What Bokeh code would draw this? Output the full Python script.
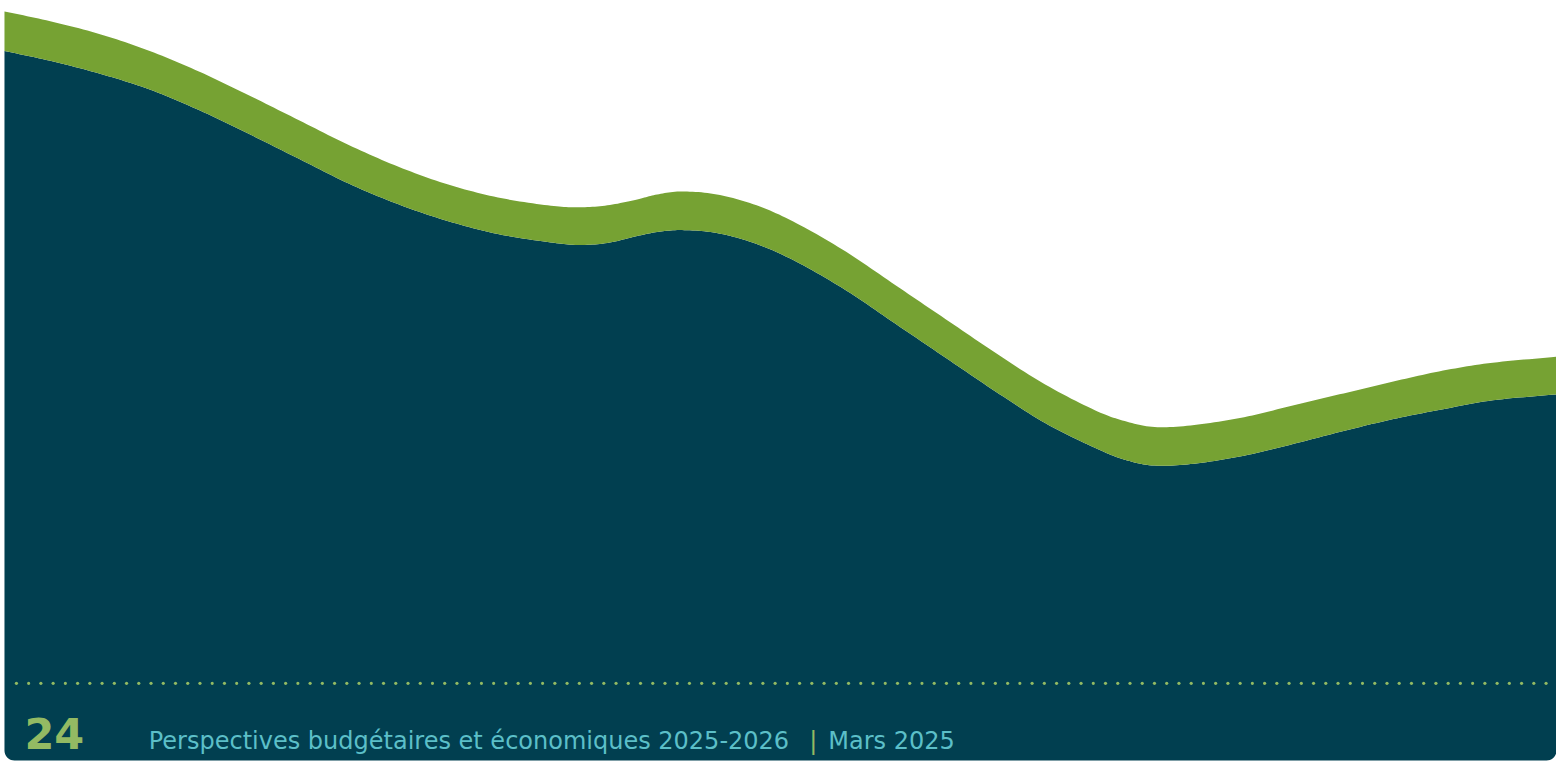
from bokeh.plotting import figure
from bokeh.models import Range1d
from bokeh.core.properties import value
from bokeh.embed import file_html
from bokeh.resources import INLINE
import numpy as np

# Wave profile (x in px, y in px from top)
curve_x = [4, 50, 100, 150, 200, 250, 300, 350, 400, 450, 500, 550, 580, 610, 640, 660, 685,
           720, 760, 800, 850, 900, 950, 1000, 1050, 1100, 1130, 1160, 1200, 1250, 1300,
           1350, 1400, 1450, 1500, 1564]
green_top = [11, 21, 34, 51, 72, 96, 121, 146, 168, 186, 199, 207, 209, 207, 201, 196, 193,
             196, 207, 225, 254, 288, 322, 356, 388, 414, 425, 431, 429, 421, 409,
             397, 385, 374, 366, 360]
blue_top = [51, 61, 74, 90, 111, 135, 160, 185, 206, 223, 236, 244, 247, 245, 238, 234, 232,
            235, 246, 264, 293, 327, 361, 395, 427, 452, 464, 470, 468, 460, 448,
            435, 423, 413, 404, 398]

page_number = "24"
footer_title = "Perspectives budgétaires et économiques 2025-2026"
footer_sep = "|"
footer_date = "Mars 2025"

DARK = "#013F50"
GREEN = "#76A233"
LIGHT_GREEN = "#93BA63"
TEAL = "#5CBFC8"

BOTTOM = 768.0
CORNER = 10.0


def smooth(xs, ys, n=12):
    """Catmull-Rom rendering through the read points (passes through every point)."""
    xs = np.asarray(xs, float)
    ys = np.asarray(ys, float)
    px = np.concatenate([[2 * xs[0] - xs[1]], xs, [2 * xs[-1] - xs[-2]]])
    py = np.concatenate([[2 * ys[0] - ys[1]], ys, [2 * ys[-1] - ys[-2]]])
    ox, oy = [], []
    t = np.linspace(0, 1, n, endpoint=False)
    for i in range(1, len(px) - 2):
        for arr, out in ((px, ox), (py, oy)):
            p0, p1, p2, p3 = arr[i - 1], arr[i], arr[i + 1], arr[i + 2]
            out.extend(0.5 * ((2 * p1) + (-p0 + p2) * t + (2 * p0 - 5 * p1 + 4 * p2 - p3) * t ** 2
                              + (-p0 + 3 * p1 - 3 * p2 + p3) * t ** 3))
    ox.append(xs[-1])
    oy.append(ys[-1])
    return np.array(ox), np.array(oy)


sx, s_green = smooth(curve_x, green_top)
_, s_blue = smooth(curve_x, blue_top)

# dark body outline: wave on top, rounded bottom corners
ang_r = np.linspace(0, np.pi / 2, 10)
ang_l = np.linspace(np.pi / 2, np.pi, 10)
x_right, x_left = sx[-1], sx[0]
body_x = np.concatenate([sx,
                         x_right - CORNER + CORNER * np.cos(ang_r),
                         x_left + CORNER + CORNER * np.cos(ang_l)])
body_y = np.concatenate([s_blue,
                         BOTTOM - CORNER + CORNER * np.sin(ang_r),
                         BOTTOM - CORNER + CORNER * np.sin(ang_l)])

p = figure(width=1556, height=762, output_backend="svg", toolbar_location=None,
           x_range=Range1d(0, 1564), y_range=Range1d(770, 0),
           min_border=0, min_border_left=0, min_border_right=0,
           min_border_top=0, min_border_bottom=0)
p.axis.visible = False
p.grid.visible = False
p.outline_line_color = None
p.background_fill_color = "white"
p.border_fill_color = "white"

p.patch(x=body_x, y=body_y, fill_color=DARK, line_color=None)
p.varea(x=sx, y1=s_green, y2=s_blue, fill_color=GREEN)

# dotted separator
dots_x = np.arange(16, 1556, 12.3)
p.scatter(x=dots_x, y=np.full(len(dots_x), 690.0), size=3.2, fill_color=LIGHT_GREEN, line_color=None)

p.text(x=[24], y=[741], text=[page_number], text_color=LIGHT_GREEN,
       text_font=value("DejaVu Sans"), text_font_size="43px", text_font_style="bold",
       text_baseline="alphabetic")
p.text(x=[149], y=[748], text=[footer_title], text_color=TEAL,
       text_font=value("DejaVu Sans"), text_font_size="24px", text_baseline="alphabetic")
p.text(x=[813], y=[748], text=[footer_sep], text_color=LIGHT_GREEN,
       text_font=value("DejaVu Sans"), text_font_size="24px", text_baseline="alphabetic")
p.text(x=[832], y=[748], text=[footer_date], text_color=TEAL,
       text_font=value("DejaVu Sans"), text_font_size="24px", text_baseline="alphabetic")

open("out.html", "w").write(file_html(p, INLINE))
